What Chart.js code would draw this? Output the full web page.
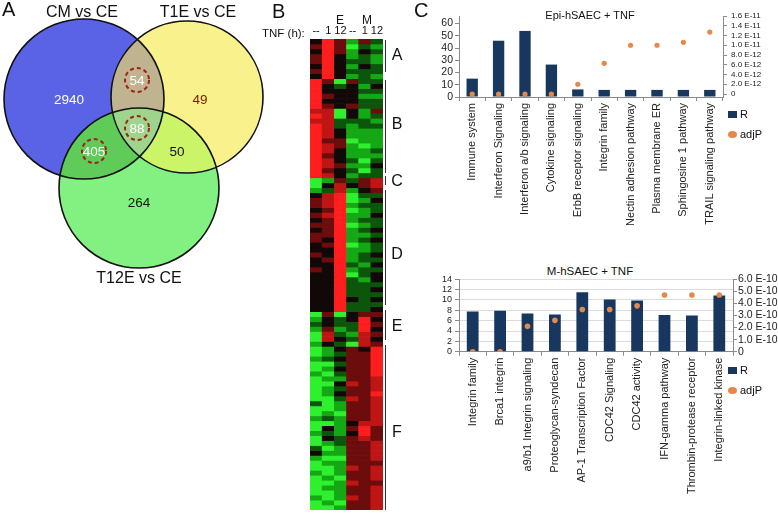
<!DOCTYPE html>
<html>
<head>
<meta charset="utf-8">
<script src="https://cdn.jsdelivr.net/npm/chart.js@4.4.1/dist/chart.umd.min.js"></script>
<style>
  body { margin: 0; background: #fff; }
  #page { position: relative; width: 778px; height: 514px; overflow: hidden; background: #fff;
          font-family: "Liberation Sans", Arial, sans-serif; color: #111; }
  canvas { position: absolute; }
  .t { position: absolute; white-space: nowrap; line-height: 1; }
  .c { transform: translate(-50%, -50%); }
  .br { position: absolute; left: 385px; width: 1.3px; background: #333; }
  .key { position: absolute; font-size: 11px; line-height: 1; }
  .key i { position: absolute; left: 0; }
  .key span { position: absolute; left: 12px; top: -5px; }
</style>
</head>
<body>
<div id="page">
  <!-- venn canvas is oversized: chart.js pads the chart area by the bubble radius -->
  <canvas id="venn" width="434" height="454" style="left:-82px;top:-82px"></canvas>

  <div class="t" style="left:2px;top:-1px;font-size:20px">A</div>
  <div class="t" style="left:272px;top:1px;font-size:20px">B</div>
  <div class="t" style="left:414px;top:0px;font-size:20px">C</div>

  <div class="t c" style="left:340px;top:20px;font-size:12px">E</div>
  <div class="t c" style="left:367px;top:20px;font-size:12px">M</div>
  <div class="t" style="left:262px;top:28px;font-size:11.5px">TNF (h):</div>
  <canvas id="heat" width="74" height="487" style="left:310px;top:23px"></canvas>
  <div id="brackets"></div>

  <div class="t c" style="left:590px;top:15px;font-size:11px">Epi-hSAEC + TNF</div>
  <canvas id="epi" width="378" height="240" style="left:400px;top:0"></canvas>
  <div id="epiKey"></div>

  <div class="t c" style="left:590px;top:272px;font-size:11.5px">M-hSAEC + TNF</div>
  <canvas id="mes" width="378" height="252" style="left:400px;top:262px"></canvas>
  <div id="mesKey"></div>
</div>

<script>
// ---- panel A: Venn counts ----
const vennSets = ['CM vs CE', 'T1E vs CE', 'T12E vs CE'];
const vennRegions = ['CM', 'T1E', 'T12E', 'CM+T1E', 'CM+T12E', 'T1E+T12E', 'all'];
const vennCounts = [2940, 49, 264, 54, 405, 50, 88];
const vennMarked = ['CM+T1E', 'CM+T12E', 'all'];

// ---- panel B: heatmap (-3 green .. 0 black .. 3 red) ----
const heatCols = ['--', '1', '12', '--', '1', '12'];
const clusterNames = ['A', 'B', 'C', 'D', 'E', 'F'];
const clusterA = [
  [0, 3, 1, -2, 1, -1], [1, 3, 1, -3, -1, -2], [0, 3, 1, -2, 0, -1], [1, 3, 0, -2, -1, -2],
  [1, 3, 0, -1, -1, -2], [0, 3, 0, -2, 0, -1], [1, 3, 0, -1, -1, -1], [0, 3, 0, -2, -1, -2]
];
const clusterB = [
  [3, 1, -3, 1, -1, -1], [3, 0, -1, 0, -2, 0], [3, 0, 0, 0, -1, -1], [3, 1, 0, 0, -2, -2],
  [3, 0, 0, 0, -1, -1], [3, 1, 0, 1, -1, -1], [2, 2, -3, 0, -2, 1], [3, 2, -3, 0, -2, -1],
  [2, 2, -1, -1, -1, -2], [3, 2, -1, -2, -1, -1], [3, 2, 0, -2, -2, -2], [3, 2, 0, -2, -2, -2],
  [3, 1, 1, -3, -2, -2], [3, 2, 1, -2, -3, -2], [3, 2, 0, -2, -2, -1], [3, 1, 0, -2, -2, -2],
  [3, 2, 0, -1, -3, -1], [3, 2, 1, -2, -2, 0], [3, 1, 0, -1, -3, -1], [3, 2, 0, -2, -1, -1]
];
const clusterC = [
  [-3, -2, 1, -1, 1, 2], [-3, 0, 2, 0, 1, 2], [-2, -1, 2, -2, 0, 1]
];
const clusterD = [
  [0, 2, 3, -3, -1, -1], [1, 2, 3, -3, -2, 0], [1, 2, 3, -2, -1, -1], [0, 1, 3, -3, -2, -1],
  [1, 2, 3, -2, -2, 0], [0, 1, 3, -2, -1, -1], [1, 1, 3, -3, -2, -1], [0, 1, 3, -2, -1, 0],
  [1, 1, 3, -2, -2, -1], [1, 0, 3, -2, -1, 0], [0, 1, 3, -3, -2, -1], [0, 0, 3, -2, -2, -1],
  [1, 0, 3, -2, -1, 0], [0, 1, 3, -2, -1, -1], [0, 0, 3, -1, -2, 0], [1, 0, 3, -2, -1, -1],
  [0, 0, 3, -3, -1, 0], [0, 0, 3, -1, -2, 0], [0, 0, 3, -1, -1, -1], [0, 0, 3, -1, -1, 0],
  [0, 0, 3, -1, -1, -1], [0, 0, 3, 0, -1, 0], [0, 0, 3, -1, -1, -1], [0, 0, 3, -1, -1, 0]
];
const clusterE = [
  [-3, 1, -3, 0, 1, 1], [-2, 0, -1, 0, 3, 0], [-1, 0, -1, -1, 3, 1], [-2, 1, -2, -1, 3, 0],
  [-3, 2, -1, -2, 2, 1], [-3, 2, 0, -1, 2, 0], [-2, 0, -1, -3, 2, 1]
];
const clusterF = [
  [-3, -2, 0, 1, 0, 3], [-3, -2, -1, 1, 1, 3], [-2, -1, 0, 1, 1, 3], [-3, -3, -1, 1, 1, 3],
  [-3, -2, 0, 1, 1, 3], [-2, -3, -1, 1, 1, 3], [-3, -2, -2, 1, 1, 2], [-3, -3, 0, 2, 1, 2],
  [-3, -2, -1, 1, 1, 2], [-3, -2, 0, 1, 1, 3], [-3, -3, -1, 2, 1, 2], [-1, -3, -2, 1, 1, 2],
  [-3, -3, -2, 1, 1, 2], [-3, -2, -3, 1, 1, 2], [-2, -1, -2, 1, 1, 2], [-3, -3, -2, 0, 2, 2],
  [-3, 0, -2, 1, 3, 1], [-2, -1, -2, 0, 3, 1], [-3, 0, -1, 1, 2, 1], [-3, -2, -1, 1, 1, 2],
  [-1, -3, -2, 1, 1, 2], [0, -2, -2, 1, 1, 2], [-2, -3, -3, 1, 1, 2], [-3, -2, -2, 1, 1, 1],
  [-3, -3, -2, 2, 1, 2], [-2, -3, -2, 1, 1, 2], [-3, -2, -3, 1, 1, 2], [-3, -3, -2, 2, 1, 1],
  [-3, -2, -2, 1, 1, 2], [-3, -3, -2, 1, 1, 2], [-2, -3, -2, 2, 1, 2], [-3, -2, -3, 1, 1, 2],
  [-3, -3, -2, 1, 1, 2]
];
const clusters = [clusterA, clusterB, clusterC, clusterD, clusterE, clusterF];

// ---- panel C: pathway enrichment ----
const epiLabels = ['Immune system', 'Interferon Signaling', 'Interferon a/b signaling', 'Cytokine signaling',
  'ErbB receptor signaling', 'Integrin family', 'Nectin adhesion pathway', 'Plasma membrane ER',
  'Sphingosine 1 pathway', 'TRAIL signaling pathway'];
const epiR = [15, 46, 54, 26.5, 6.2, 5.8, 5.8, 5.8, 5.8, 5.8];
const epiAdjP = [0, 0, 0, 0, 2.0e-12, 6.3e-12, 1.0e-11, 1.0e-11, 1.06e-11, 1.27e-11];
const epiRTicks = [0, 10, 20, 30, 40, 50, 60];
const epiPTicks = [0, 2e-12, 4e-12, 6e-12, 8e-12, 1e-11, 1.2e-11, 1.4e-11, 1.6e-11];

const mLabels = ['Integrin family', 'Brca1 integrin', 'a9/b1 Integrin signaling', 'Proteoglycan-syndecan',
  'AP-1 Transcription Factor', 'CDC42 Signaling', 'CDC42 activity', 'IFN-gamma pathway',
  'Thrombin-protease receptor', 'Integrin-linked kinase'];
const mR = [7.75, 7.9, 7.4, 7.2, 11.5, 10.1, 9.9, 7.1, 7.0, 10.85];
const mAdjP = [0, 0, 2.1e-10, 2.6e-10, 3.5e-10, 3.5e-10, 3.8e-10, 4.7e-10, 4.7e-10, 4.7e-10];
const mRTicks = [0, 2, 4, 6, 8, 10, 12, 14];
const mPTicks = [0, 1e-10, 2e-10, 3e-10, 4e-10, 5e-10, 6e-10];

const NAVY = '#17375e';
const ORANGE = '#e5894a';
const AXIS = '#8a8a8a';
const FONT = '"Liberation Sans", Arial, sans-serif';

Chart.defaults.font.family = FONT;
Chart.defaults.color = '#222';

// ---------- Venn ----------
// layout in page pixels (the x/y scales below run in page pixels too)
const vennCircles = [{ x: 84, y: 99, r: 80 }, { x: 187, y: 97, r: 76 }, { x: 139, y: 188, r: 80 }];
const vennFill = ['#5a63e6', '#f9f28c', '#82f182'];
const vennPairFill = { '0-1': '#bfb48f', '0-2': '#5fcb58', '1-2': '#cbf468' };
const vennAllFill = '#9dd58c';
const vennLabelAt = {
  'CM': [69, 99], 'T1E': [200, 99], 'T12E': [139, 202], 'CM+T1E': [137, 80],
  'CM+T12E': [94, 151], 'T1E+T12E': [177, 151], 'all': [137, 128]
};
const vennTextColor = { 'CM': '#fff', 'T1E': '#7a1a00', 'T12E': '#111', 'CM+T1E': '#fff',
  'CM+T12E': '#fff', 'T1E+T12E': '#111', 'all': '#fff' };
const vennSetLabelAt = [[82, 13], [198, 13], [139, 279]];

const vennPlugin = {
  id: 'vennPaint',
  beforeDatasetsDraw(chart) {
    const ctx = chart.ctx;
    const c = chart.getDatasetMeta(0).data.map(e => ({ x: e.x, y: e.y, r: e.options.radius }));
    const disc = (k) => { ctx.beginPath(); ctx.arc(c[k].x, c[k].y, c[k].r, 0, Math.PI * 2); };
    ctx.save();
    c.forEach((_, k) => { disc(k); ctx.fillStyle = vennFill[k]; ctx.fill(); });
    [[0, 1], [0, 2], [1, 2]].forEach(([a, b]) => {
      ctx.save(); disc(a); ctx.clip(); disc(b); ctx.fillStyle = vennPairFill[a + '-' + b]; ctx.fill(); ctx.restore();
    });
    ctx.save(); disc(0); ctx.clip(); disc(1); ctx.clip(); disc(2); ctx.fillStyle = vennAllFill; ctx.fill(); ctx.restore();
    ctx.restore();
  },
  afterDatasetsDraw(chart) {
    const ctx = chart.ctx;
    const px = v => chart.scales.x.getPixelForValue(v);
    const py = v => chart.scales.y.getPixelForValue(v);
    ctx.save();
    ctx.textAlign = 'center';
    ctx.textBaseline = 'middle';
    vennRegions.forEach((key, k) => {
      const x = px(vennLabelAt[key][0]);
      const y = py(vennLabelAt[key][1]);
      if (vennMarked.includes(key)) {
        ctx.beginPath();
        ctx.arc(x, y, 12, 0, Math.PI * 2);
        ctx.setLineDash([4, 3]);
        ctx.lineWidth = 2;
        ctx.strokeStyle = '#a3201c';
        ctx.stroke();
        ctx.setLineDash([]);
      }
      ctx.fillStyle = vennTextColor[key];
      ctx.font = '13.5px ' + FONT;
      ctx.fillText(String(vennCounts[k]), x, y + 1);
    });
    ctx.fillStyle = '#111';
    ctx.font = '16px ' + FONT;
    vennSets.forEach((name, k) => ctx.fillText(name, px(vennSetLabelAt[k][0]), py(vennSetLabelAt[k][1])));
    ctx.restore();
  }
};

new Chart(document.getElementById('venn'), {
  type: 'bubble',
  data: {
    datasets: [{
      data: vennCircles,
      backgroundColor: 'rgba(0,0,0,0)',
      borderColor: '#111',
      borderWidth: 1.6,
      clip: false
    }]
  },
  options: {
    responsive: false,
    animation: false,
    events: [],
    layout: { padding: 82 },
    plugins: { legend: { display: false }, tooltip: { enabled: false } },
    scales: {
      x: { display: false, min: 0, max: 270 },
      y: { display: false, min: 0, max: 290, reverse: true }
    }
  },
  plugins: [vennPlugin]
});

// ---------- heatmap ----------
const heatPalette = { '-3': '#2ef02e', '-2': '#15a815', '-1': '#0b560b', '0': '#120808',
  '1': '#6c0c0c', '2': '#c01515', '3': '#ff1e1e' };
const heatRows = clusters.flat();

new Chart(document.getElementById('heat'), {
  type: 'bar',
  data: {
    labels: heatCols,
    datasets: heatRows.map(row => ({
      data: row.map(() => 1),
      backgroundColor: row.map(v => heatPalette[v]),
      borderWidth: 0,
      barPercentage: 1,
      categoryPercentage: 1
    }))
  },
  options: {
    responsive: false,
    animation: false,
    events: [],
    layout: { padding: 0 },
    plugins: { legend: { display: false }, tooltip: { enabled: false } },
    scales: {
      x: {
        position: 'top', stacked: true,
        grid: { display: false, drawTicks: false }, border: { display: false },
        ticks: { padding: 1, autoSkip: false, maxRotation: 0, color: '#111', font: { size: 11 } },
        afterFit: s => { s.height = 16; }
      },
      y: { stacked: true, display: false, min: 0, max: heatRows.length, reverse: true }
    }
  }
});

// cluster brackets
const bracketSpans = [[40, 72, 55], [80, 173, 124], [176, 185, 181], [190, 305, 254], [310, 340, 326], [345, 510, 432]];
const brBox = document.getElementById('brackets');
clusterNames.forEach((name, k) => {
  const [a, b, mid] = bracketSpans[k];
  const line = document.createElement('div');
  line.className = 'br';
  line.style.top = a + 'px';
  line.style.height = (b - a) + 'px';
  brBox.appendChild(line);
  const lab = document.createElement('div');
  lab.className = 't c';
  lab.style.cssText = 'left:397px;top:' + mid + 'px;font-size:16px';
  lab.textContent = name;
  brBox.appendChild(lab);
});

// ---------- bar + dot charts ----------
function fmtP(v) {
  return v === 0 ? '0' : v.toExponential(1).replace('e', ' E');
}

function makeCombo(id, labels, rVals, pVals, rTicks, pTicks, o) {
  return new Chart(document.getElementById(id), {
    data: {
      labels: labels,
      datasets: [
        { type: 'bar', label: 'R', data: rVals, yAxisID: 'y', order: 2,
          backgroundColor: NAVY, barPercentage: o.barPct, categoryPercentage: 1 },
        { type: 'line', label: 'adjP', data: pVals, yAxisID: 'y1', order: 1, showLine: false,
          pointRadius: o.dot, pointBackgroundColor: ORANGE, pointBorderColor: ORANGE, pointBorderWidth: 0 }
      ]
    },
    options: {
      responsive: false,
      animation: false,
      events: [],
      layout: { padding: { top: o.padTop, left: 0, right: 0, bottom: 0 } },
      plugins: { legend: { display: false }, tooltip: { enabled: false } },
      scales: {
        x: {
          grid: { offset: true, drawOnChartArea: false, tickLength: 4, color: AXIS },
          border: { color: AXIS },
          ticks: { autoSkip: false, minRotation: 90, maxRotation: 90, padding: 2, color: '#222', font: { size: 11 } },
          afterFit: s => { s.height = o.xH; }
        },
        y: {
          position: 'left', min: 0, max: o.rMax,
          afterBuildTicks: s => { s.ticks = rTicks.map(v => ({ value: v })); },
          grid: { drawOnChartArea: o.gridLines, color: '#dcdcdc', tickColor: AXIS, tickLength: 4 },
          border: { color: AXIS },
          ticks: { autoSkip: false, padding: o.lPad, color: '#222', font: { size: o.lFont }, callback: v => String(v) },
          afterFit: s => { s.width = 59; }
        },
        y1: {
          position: 'right', min: o.pMin, max: o.pMax,
          afterBuildTicks: s => { s.ticks = pTicks.map(v => ({ value: v })); },
          grid: { drawOnChartArea: false, color: AXIS, tickLength: 4 },
          border: { color: AXIS },
          ticks: { autoSkip: false, padding: o.rPad, color: '#222', font: { size: o.rFont }, callback: fmtP },
          afterFit: s => { s.width = o.rightW; }
        }
      }
    }
  });
}

function makeKey(chart, boxId, left, top, gap) {
  const box = document.getElementById(boxId);
  chart.data.datasets.forEach((ds, k) => {
    const item = document.createElement('div');
    item.className = 'key';
    item.style.left = left + 'px';
    item.style.top = (top + k * gap) + 'px';
    const sw = document.createElement('i');
    if (ds.type === 'bar') {
      sw.style.cssText = 'top:-3px;width:9px;height:7px;background:' + ds.backgroundColor;
    } else {
      sw.style.cssText = 'top:-3.5px;width:9px;height:7px;border-radius:50%;background:' + ds.pointBackgroundColor;
    }
    const tx = document.createElement('span');
    tx.textContent = ds.label;
    item.appendChild(sw);
    item.appendChild(tx);
    box.appendChild(item);
  });
}

const epiChart = makeCombo('epi', epiLabels, epiR, epiAdjP, epiRTicks, epiPTicks, {
  barPct: 0.43, dot: 2.6, padTop: 16, xH: 143, rMax: 66.2, pMin: -0.613e-12, pMax: 1.6e-11,
  gridLines: false, lFont: 10.5, lPad: 2, rFont: 8, rPad: 4, rightW: 55
});
makeKey(epiChart, 'epiKey', 728, 114, 20);

const mChart = makeCombo('mes', mLabels, mR, mAdjP, mRTicks, mPTicks, {
  barPct: 0.43, dot: 2.8, padTop: 17.3, xH: 162.3, rMax: 14, pMin: 0, pMax: 6e-10,
  gridLines: true, lFont: 9, lPad: 3, rFont: 10.5, rPad: 1, rightW: 45
});
makeKey(mChart, 'mesKey', 728, 370, 20);
</script>
</body>
</html>
